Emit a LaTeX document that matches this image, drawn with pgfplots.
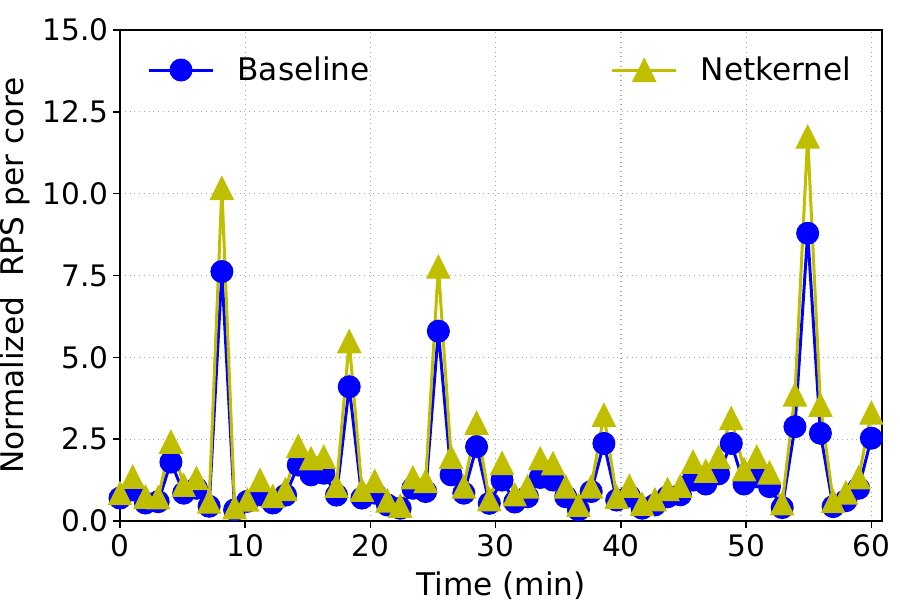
\documentclass[border=0pt]{standalone}
\usepackage{fontspec}
\setmainfont{DejaVu Sans}
\usepackage{pgfplots}
\usepackage{pgfplotstable}
\pgfplotsset{compat=1.18}

\definecolor{baseblue}{RGB}{0,0,255}
\definecolor{nkyellow}{RGB}{191,191,0}

% upward triangle centred at mid-height
\pgfdeclareplotmark{mpltri}{%
  \pgfpathmoveto{\pgfqpoint{0pt}{\pgfplotmarksize}}%
  \pgfpathlineto{\pgfqpoint{-\pgfplotmarksize}{-\pgfplotmarksize}}%
  \pgfpathlineto{\pgfqpoint{\pgfplotmarksize}{-\pgfplotmarksize}}%
  \pgfpathclose
  \pgfusepathqfillstroke}

% time (min), baseline, netkernel
\pgfplotstableread{
t        base  nk
0.0000   0.70  0.85
1.0169   0.95  1.35
2.0339   0.55  0.74
3.0508   0.59  0.72
4.0678   1.80  2.42
5.0847   0.85  1.10
6.1017   1.00  1.31
7.1186   0.45  0.59
8.1356   7.62  10.17
9.1525   0.34  0.42
10.1695  0.60  0.65
11.1864  0.80  1.25
12.2034  0.55  0.76
13.2203  0.79  0.97
14.2373  1.71  2.29
15.2542  1.41  1.91
16.2712  1.46  1.96
17.2881  0.79  1.07
18.3051  4.10  5.49
19.3220  0.70  0.95
20.3390  0.85  1.22
21.3559  0.49  0.62
22.3729  0.39  0.46
23.3898  1.00  1.33
24.4068  0.90  1.22
25.4237  5.80  7.77
26.4407  1.41  1.96
27.4576  0.85  1.05
28.4746  2.27  3.00
29.4915  0.54  0.66
30.5085  1.25  1.77
31.5254  0.58  0.81
32.5424  0.74  1.05
33.5593  1.33  1.91
34.5763  1.25  1.76
35.5932  0.74  1.05
36.6102  0.34  0.49
37.6271  0.90  1.05
38.6441  2.37  3.24
39.6610  0.64  0.74
40.6780  0.76  1.07
41.6949  0.39  0.52
42.7119  0.49  0.66
43.7288  0.74  0.97
44.7458  0.80  1.07
45.7627  1.25  1.81
46.7797  1.13  1.53
47.7966  1.44  1.96
48.8136  2.37  3.14
49.8305  1.13  1.58
50.8475  1.35  1.96
51.8644  1.05  1.48
52.8814  0.41  0.54
53.8983  2.88  3.86
54.9153  8.79  11.74
55.9322  2.68  3.55
56.9492  0.44  0.61
57.9661  0.62  0.87
58.9831  1.00  1.33
60.0000  2.53  3.31
}\rpsdata

\begin{document}
\begin{tikzpicture}
\useasboundingbox (-60bp,-39.5bp) rectangle (390bp,260.5bp);
\begin{axis}[
  at={(0,0)}, anchor=south west,
  scale only axis,
  width=381bp, height=245.5bp,
  font=\fontsize{15.6bp}{18.7bp}\selectfont,
  xmin=0, xmax=60.85,
  ymin=0, ymax=15,
  xtick={0,10,...,60},
  ytick={0,2.5,...,15},
  minor tick num=0,
  tick pos=left,
  tick align=outside,
  major tick length=3.5bp,
  every tick/.style={black, line width=0.8bp},
  axis line style={black, line width=0.8bp},
  grid=major,
  major grid style={gray!70, dotted, line width=0.6bp},
  /pgf/number format/assume math mode=true,
  tick label style={font=\fontsize{14.8bp}{17.8bp}\selectfont},
  yticklabel style={/pgf/number format/fixed, /pgf/number format/fixed zerofill,
    /pgf/number format/precision=1, anchor=east, inner sep=0pt, xshift=-2bp},
  xticklabel style={/pgf/number format/fixed, /pgf/number format/precision=0,
    anchor=north, inner sep=0pt, yshift=-3bp},
  xlabel={Time (min)},
  ylabel={Normalized\ \ RPS per core},
  xlabel style={at={(axis description cs:0.5,-0.1018)}, anchor=north, inner sep=0pt},
  ylabel style={at={(axis description cs:-0.138,0.5)}, anchor=center, inner sep=0pt},
  legend columns=2,
  legend style={
    at={(axis description cs:0.0361,0.9185)}, anchor=west,
    draw=none, fill=none, inner sep=0pt, outer sep=0pt,
    nodes={inner sep=0pt},
    /tikz/every odd column/.append style={column sep=11.5bp},
    /tikz/every even column/.append style={column sep=120.5bp},
  },
  legend image code/.code={%
    \draw[mark repeat=2, mark phase=2, #1]
      plot coordinates {(0bp,0bp) (16bp,0bp) (32bp,0bp)};},
]
\addplot[baseblue, line width=1.5bp, mark=*, mark size=5.5bp,
  mark options={solid, line width=0.5bp}]
  table[x=t, y=base] {\rpsdata};
\addlegendentry{Baseline}
\addplot[nkyellow, line width=1.5bp, mark=mpltri, mark size=5.75bp,
  mark options={solid, line width=0.5bp}]
  table[x=t, y=nk] {\rpsdata};
\addlegendentry{Netkernel}
\end{axis}
\end{tikzpicture}
\end{document}
